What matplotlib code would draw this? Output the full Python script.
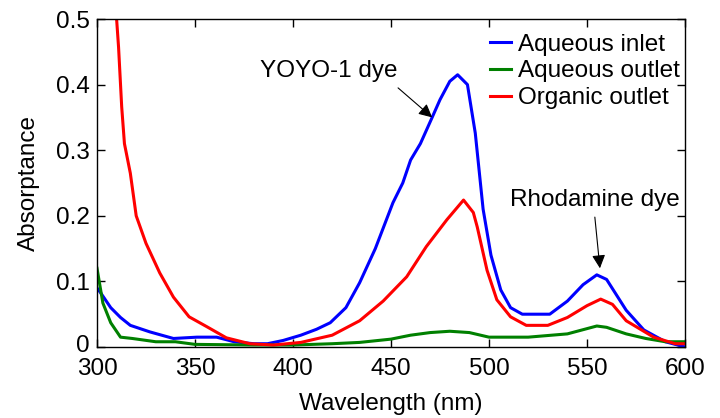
import matplotlib
matplotlib.use("Agg")
import matplotlib.pyplot as plt
import matplotlib.transforms as mtransforms

# spectra (wavelength in nm, absorptance)
blue_wl = [300, 302, 307, 312, 317, 327, 339, 351, 361, 370, 380, 387, 395, 404, 412, 419,
           427, 434, 442, 451, 456, 460, 465, 471, 475, 480, 484, 489, 493, 497, 501, 506,
           511, 517, 531, 540, 548, 555, 560, 570, 579, 590, 600]
blue_abs = [0.09, 0.082, 0.06, 0.045, 0.033, 0.023, 0.013, 0.015, 0.015, 0.008, 0.005, 0.005,
            0.01, 0.018, 0.027, 0.037, 0.06, 0.098, 0.15, 0.22, 0.25, 0.285, 0.31, 0.35, 0.377,
            0.405, 0.415, 0.40, 0.326, 0.21, 0.14, 0.087, 0.06, 0.05, 0.05, 0.07, 0.095, 0.11,
            0.103, 0.056, 0.026, 0.008, 0.0]

green_wl = [300, 303, 307, 312, 318, 330, 340, 350, 380, 400, 420, 434, 450, 460, 470, 480,
            490, 500, 520, 540, 555, 560, 570, 580, 590, 600]
green_abs = [0.12, 0.067, 0.037, 0.015, 0.013, 0.008, 0.008, 0.004, 0.003, 0.003, 0.005, 0.007,
             0.012, 0.018, 0.022, 0.024, 0.022, 0.015, 0.015, 0.02, 0.032, 0.03, 0.02, 0.013,
             0.008, 0.008]

red_wl = [310, 311, 312.6, 314, 317, 320, 325, 332, 339, 347, 356, 366, 378, 390, 404, 420,
          434, 446, 458, 468, 478.5, 487, 492, 494, 499, 504, 511, 519, 530, 540, 550, 557,
          563, 570, 584, 595, 600]
red_abs = [0.5, 0.457, 0.366, 0.31, 0.265, 0.2, 0.158, 0.113, 0.076, 0.046, 0.031, 0.014,
           0.005, 0.003, 0.007, 0.018, 0.04, 0.07, 0.107, 0.153, 0.194, 0.224, 0.205, 0.183,
           0.117, 0.072, 0.046, 0.033, 0.033, 0.045, 0.063, 0.073, 0.065, 0.04, 0.015, 0.005,
           0.005]

plt.rcParams['font.family'] = ['Liberation Sans', 'DejaVu Sans']
fs = 17.5

fig = plt.figure(figsize=(7.2, 4.18), dpi=100)
ax = fig.add_axes([97/720, 71/418, 588/720, 328/418])

ax.plot(blue_wl, blue_abs, color=(0, 0, 1), lw=2.2, label="Aqueous inlet")
ax.plot(green_wl, green_abs, color=(0, 0.5, 0), lw=2.2, label="Aqueous outlet")
ax.plot(red_wl, red_abs, color=(1, 0, 0), lw=2.2, label="Organic outlet")

ax.set_xlim(300, 600)
ax.set_ylim(0, 0.5)
ax.set_xticks(range(300, 601, 50))
ax.set_yticks([0, 0.1, 0.2, 0.3, 0.4, 0.5])
ax.set_yticklabels(["0", "0.1", "0.2", "0.3", "0.4", "0.5"])
ax.tick_params(direction="in", length=6, width=1, top=True, right=True, labelsize=fs)
ax.tick_params(axis="x", pad=8)
ax.tick_params(axis="y", pad=5)
for s in ax.spines.values():
    s.set_linewidth(1)

# nudge the y "0" up a little so it doesn't run into the "300"
zero_lbl = ax.get_yticklabels()[0]
zero_lbl.set_transform(zero_lbl.get_transform() +
                       mtransforms.ScaledTranslation(0, 3/100, fig.dpi_scale_trans))

ax.set_xlabel("Wavelength (nm)", fontsize=fs, labelpad=9)
ax.set_ylabel("Absorptance", fontsize=fs, labelpad=12)

# labels and arrows
ax.text(383, 0.42, "YOYO-1 dye", fontsize=fs, va="center", ha="left")
ax.annotate("", xy=(471, 0.35), xytext=(453.6, 0.395),
            arrowprops=dict(arrowstyle="-|>", color="black", lw=0.8, mutation_scale=20,
                            shrinkA=0, shrinkB=0))
ax.text(510.5, 0.224, "Rhodamine dye", fontsize=fs, va="center", ha="left")
ax.annotate("", xy=(556.6, 0.12), xytext=(554, 0.198),
            arrowprops=dict(arrowstyle="-|>", color="black", lw=0.8, mutation_scale=20,
                            shrinkA=0, shrinkB=0))

ax.legend(loc="upper right", bbox_to_anchor=(1 + 9/588, 1.0), frameon=False, fontsize=fs,
          handlelength=0.9, handletextpad=0.25, labelspacing=0.2, borderaxespad=0.45,
          borderpad=0.15)

fig.savefig("out.png", dpi=100)
